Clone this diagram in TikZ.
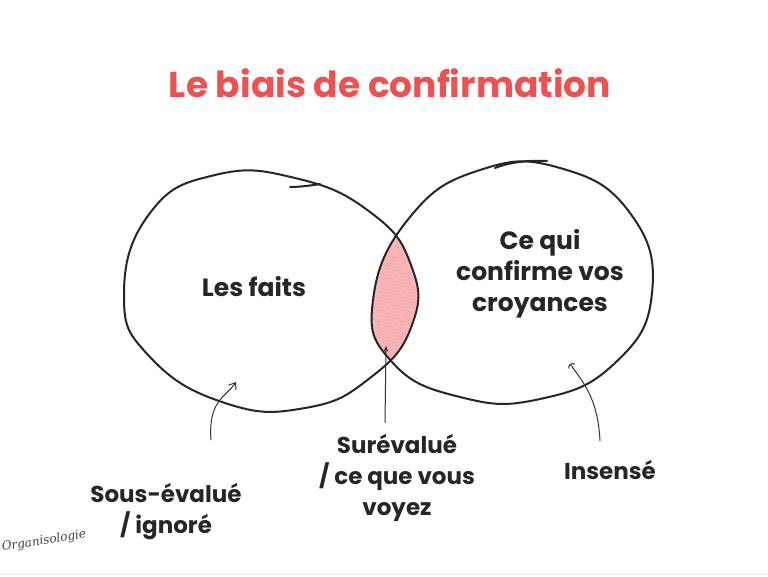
\documentclass[tikz,border=0pt]{standalone}
\usepackage{fontspec}
\setmainfont{Poppins}
\newfontfamily\signfont{DejaVu Serif}
\usetikzlibrary{arrows.meta,patterns}
\definecolor{titlered}{RGB}{236,82,82}

\begin{document}
\begin{tikzpicture}[x=1pt,y=-1pt]
	\tikzstyle{word}=[font=\bfseries\fontsize{23}{31}\selectfont, align=center, text=black!85]
	\tikzstyle{big}=[font=\bfseries\fontsize{25}{31}\selectfont]
	\tikzstyle{blob}=[draw=black!85, line width=2pt, line cap=round]
	\tikzstyle{pointer}=[draw=black!80, line width=1pt]

	\useasboundingbox (0,0) rectangle (768,576);
	\draw[black!8] (0,574) -- (768,574);

	\node[font=\bfseries\fontsize{36}{42}\selectfont, text=titlered] (title) at (390,83) {Le biais de confirmation};

	% the two sets, drawn by hand
	\def\faitspath{plot[smooth cycle, tension=0.8] coordinates {(124,295) (150,357) (225,403) (305,408) (370,378) (412,325) (411,265) (370,212) (295,178) (215,175) (150,213)}}
	\def\croyancespath{plot[smooth cycle, tension=0.8] coordinates {(373,300) (392,362) (460,397) (540,399) (615,363) (652,293) (630,213) (560,168) (480,170) (410,217)}}

	% overlap of the two sets
	\begin{scope}
		\clip \faitspath;
		\fill[red!22] \croyancespath;
		\fill[pattern=north east lines, pattern color=red!45] \croyancespath;
	\end{scope}

	\draw[blob] \faitspath;
	\draw[blob] \croyancespath;
	\draw[blob] (320,184) .. controls (308,186) and (298,187) .. (290,187);
	\draw[blob] (495,168) .. controls (510,162) and (530,160) .. (547,161);

	\node[word, big] (lesfaits) at (254,287) {Les faits};
	\node[word, big] (cequi) at (540,274) {Ce qui\\confirme vos\\croyances};

	\node[word] (sous) at (166,512) {Sous-évalué\\/ ignoré};
	\node[word] (sur) at (397,478) {Surévalué\\/ ce que vous\\voyez};
	\node[word] (insense) at (610,470) {Insensé};

	\node[font=\signfont\itshape\fontsize{12}{13}\selectfont, rotate=9, text=black!75] (sign) at (44,541) {Organisologie};

	\coordinate (p1) at (236,382);
	\coordinate (p2) at (386,346);
	\coordinate (p3) at (570,364);

	\draw[pointer, -{Straight Barb[length=6pt,width=9pt]}] (sous.north) ++(45,-40) .. controls +(-3,-40) and +(-10,15) .. (p1);
	\draw[pointer, -{Stealth[open,length=6pt,width=5pt]}] (sur.north) ++(-12,-8) -- (p2);
	\draw[pointer, -{Arc Barb[length=3pt,width=8pt]}] (insense.north) ++(-10,-16) .. controls +(-2,-40) and +(15,20) .. (p3);
\end{tikzpicture}
\end{document}
